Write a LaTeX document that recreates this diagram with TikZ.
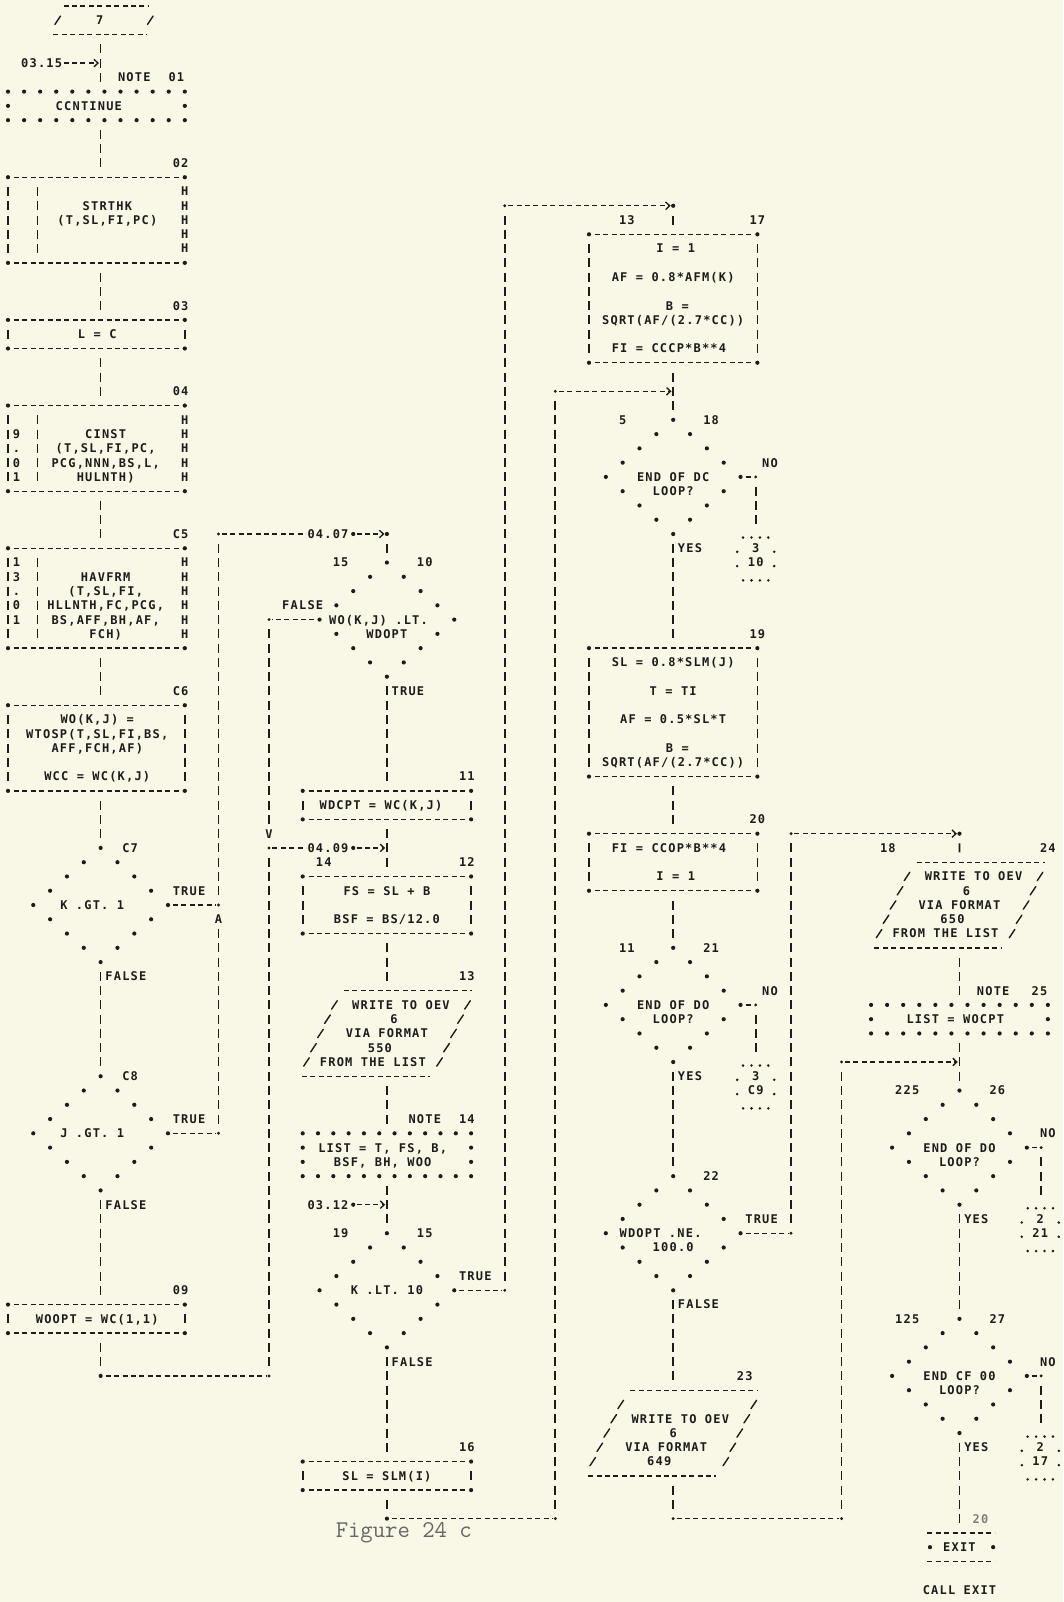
\documentclass[tikz,border=0pt]{standalone}
\usepackage{fontspec}
\usetikzlibrary{calc,fit,shapes.geometric,arrows.meta}
\newfontfamily\lpf{DejaVu Sans Mono}[LetterSpace=10]
\definecolor{ink}{RGB}{28,28,28}
\definecolor{paper}{RGB}{249,247,230}
\newcounter{tn}
\tikzset{
  hd/.style={draw=ink,line width=1.35pt,dash pattern=on 5pt off 3.42pt},
  vd/.style={draw=ink,line width=1.7pt,dash pattern=on 9pt off 5.27pt},
  sl/.style={draw=ink,line width=1.4pt,line cap=round},
  tx/.style={font=\lpf\bfseries\fontsize{12}{14}\selectfont,text=ink,inner sep=0pt,anchor=base,yshift=-4.4pt},
  arr/.style={hd,-{Straight Barb[length=4pt,width=7.5pt]}},
  fb/.style={inner sep=0pt,outer sep=0pt},
}
\newcommand\Xt[3]{\stepcounter{tn}\node[tx] (t\arabic{tn}) at (#1,#2) {#3};}
\newcommand\Xdot[2]{\fill[ink] (#1,#2) circle (2.1pt);}
\newcommand\Xcor[2]{\fill[ink] (#1,#2) circle (1.6pt);}
\newcommand\Xbars[3]{\draw[vd] (#1,{#2-0.315}) -- (#1,{#3+0.315});}
\newcommand\XH[3]{\foreach \rr in {#2,...,#3}{\Xt{#1}{\rr}{H}}}
\newcommand\Xsl[2]{\draw[sl] (#1,#2) ++(-2.8pt,-4.2pt) -- ++(5.6pt,8.4pt);}
\newcommand\Xbox[5]{%
  \node[fb,fit={(#2,#4)(#3,#5)}] (#1) {};
  \draw[hd] ({#2+0.7},#4) -- ({#3-0.3},#4);
  \draw[hd] ({#2+0.7},#5) -- ({#3-0.3},#5);
  \Xdot{#2}{#4}\Xdot{#3}{#4}\Xdot{#2}{#5}\Xdot{#3}{#5}}
\newcommand\Xnote[5]{%
  \node[fb,fit={(#2,#4)(#3,#5)}] (#1) {};
  \foreach \i in {0,...,11}{\Xdot{{#2+(#3-#2)*\i/11}}{#4}\Xdot{{#2+(#3-#2)*\i/11}}{#5}}%
  \pgfmathtruncatemacro\XnA{#4+1}\pgfmathtruncatemacro\XnB{#5-1}%
  \foreach \rr in {\XnA,...,\XnB}{\Xdot{#2}{\rr}\Xdot{#3}{\rr}}}
\newcommand\Xdiam[3]{%
  \node[fb,diamond,minimum width=134.72pt,minimum height=114.16pt] (#1) at (#2,#3) {};
  \foreach \k in {0,1,2,3}{%
    \Xdot{{#2+2*\k}}{{#3-4+\k}}%
    \Xdot{{#2+8-2*\k}}{{#3+\k}}%
    \Xdot{{#2-2*\k}}{{#3+4-\k}}%
    \Xdot{{#2-8+2*\k}}{{#3-\k}}}}
\newcommand\Xpar[4]{%
  \node[fb,fit={({#2-10.4},#3)({#2+10.4},#4)}] (#1) {};
  \draw[hd] ({#2-5.1},#3) -- ({#2+10.1},#3);
  \draw[hd] ({#2-10.1},#4) -- ({#2+5.1},#4);
  \foreach \k in {1,...,5}{\Xsl{{#2-5.4-0.83*\k}}{{#3+\k}}\Xsl{{#2+10.4-0.83*\k}}{{#3+\k}}}}
\newcommand\Xcirc[5]{%
  \node[fb,fit={({#2-2.2},#3)({#2+2.2},{#3+3})}] (#1) {};
  \foreach \d in {-1.5,-0.5,0.5,1.5}{\fill[ink] ({#2+\d},{#3+0.25}) circle (1.4pt) ({#2+\d},{#3+3.25}) circle (1.4pt);}%
  \foreach \d in {-2.2,2.2}{\fill[ink] ({#2+\d},{#3+1.25}) circle (1.4pt) ({#2+\d},{#3+2.25}) circle (1.4pt);}%
  \Xt{#2}{{#3+1}}{#4}\Xt{#2}{{#3+2}}{#5}}
\newcommand\Xflow[3]{\draw[vd] ($(#2.south -| #1)+(0,0.685)$) -- ($(#3.north -| #1)+(0,-0.685)$);}
\begin{document}
\begin{tikzpicture}
\fill[paper] (0,0) rectangle (1063pt,-1602pt);
\useasboundingbox (0,0) rectangle (1063pt,-1602pt);
\begin{scope}[x=8.42pt,y=-14.27pt,shift={(8pt,-6pt)}]
\coordinate (f1) at (11,0);
\coordinate (f2) at (45,0);
\coordinate (f3) at (79,0);
\coordinate (f4) at (113,0);
\coordinate (k1) at (25,37);
\coordinate (k2) at (25,63);
\coordinate (k3) at (25,79);
\coordinate (k4) at (31,43);
\coordinate (k5) at (31,59);
\coordinate (k6) at (31,96);
\coordinate (k7) at (59,14);
\coordinate (k8) at (59,90);
\coordinate (k9) at (65,27);
\coordinate (k10) at (65,106);
\coordinate (k11) at (93,58);
\coordinate (k12) at (93,86);
\coordinate (k13) at (99,74);
\coordinate (k14) at (99,106);
\coordinate (k15) at (79,106);
\coordinate (s1) at (11,96);
\coordinate (s2) at (45,37);
\coordinate (s3) at (45,106);
\coordinate (s4) at (79,14);
\coordinate (s5) at (113,58);

% ---------------- column 1
\node[fb,fit={(5.3,0)(17.5,2)}] (p7) {};
\draw[hd] (6.6,0) -- (16.8,0);
\draw[hd] (5.4,2) -- (16.5,2);
\Xsl{5.9}{1}\Xsl{16.9}{1}
\Xt{10.9}{1}{7}
\Xt{4}{4}{03.15}
\draw[arr] (6.6,4) -- (10.8,4);
\Xt{15}{5}{NOTE}\Xt{20}{5}{01}
\Xnote{n01}{0}{21}{6}{8}
\Xt{9.6}{7}{CCNTINUE}
\Xt{20.5}{11}{02}
\Xbox{b02}{0}{21}{12}{18}\Xbars{0}{13}{17}\Xbars{3.5}{13}{17}\XH{21}{13}{17}
\Xt{11.8}{14}{STRTHK}\Xt{11.8}{15}{(T,SL,FI,PC)}
\Xt{20.5}{21}{03}
\Xbox{b03}{0}{21}{22}{24}\Xbars{0}{23}{23}\Xbars{21}{23}{23}
\Xt{10.6}{23}{L = C}
\Xt{20.5}{27}{04}
\Xbox{b04}{0}{21}{28}{34}\Xbars{0}{29}{33}\Xbars{3.5}{29}{33}\XH{21}{29}{33}
\Xt{1}{30}{9}\Xt{1}{31}{.}\Xt{1}{32}{0}\Xt{1}{33}{1}
\Xt{11.6}{30}{CINST}\Xt{11.6}{31}{(T,SL,FI,PC,}\Xt{11.6}{32}{PCG,NNN,BS,L,}\Xt{11.6}{33}{HULNTH)}
\Xt{20.5}{37}{C5}
\Xbox{b05}{0}{21}{38}{45}\Xbars{0}{39}{44}\Xbars{3.5}{39}{44}\XH{21}{39}{44}
\Xt{1}{39}{1}\Xt{1}{40}{3}\Xt{1}{41}{.}\Xt{1}{42}{0}\Xt{1}{43}{1}
\Xt{11.6}{40}{HAVFRM}\Xt{11.6}{41}{(T,SL,FI,}\Xt{11.6}{42}{HLLNTH,FC,PCG,}\Xt{11.6}{43}{BS,AFF,BH,AF,}\Xt{11.6}{44}{FCH)}
\Xt{20.5}{48}{C6}
\Xbox{b06}{0}{21}{49}{55}\Xbars{0}{50}{54}\Xbars{21}{50}{54}
\Xt{10.6}{50}{WO(K,J) =}\Xt{10.6}{51}{WTOSP(T,SL,FI,BS,}\Xt{10.6}{52}{AFF,FCH,AF)}\Xt{10.6}{54}{WCC = WC(K,J)}
\Xdiam{d07}{11}{63}
\Xt{14.5}{59}{C7}\Xt{10}{63}{K .GT. 1}\Xt{21.5}{62}{TRUE}\Xt{14}{68}{FALSE}
\Xdiam{d08}{11}{79}
\Xt{14.5}{75}{C8}\Xt{10}{79}{J .GT. 1}\Xt{21.5}{78}{TRUE}\Xt{14}{84}{FALSE}
\Xt{20.5}{90}{09}
\Xbox{b09}{0}{21}{91}{93}\Xbars{0}{92}{92}\Xbars{21}{92}{92}
\Xt{10.6}{92}{WOOPT = WC(1,1)}

% ---------------- column 2
\Xdiam{d10}{45}{43}
\Xt{39.5}{39}{15}\Xt{49.5}{39}{10}\Xt{35}{42}{FALSE}\Xt{44}{43}{WO(K,J) .LT.}\Xt{45}{44}{WDOPT}\Xt{47.5}{48}{TRUE}
\Xt{54.5}{54}{11}
\Xbox{b11}{35}{55}{55}{57}\Xbars{35}{56}{56}\Xbars{55}{56}{56}
\Xt{44.3}{56}{WDCPT = WC(K,J)}
\Xt{37.5}{60}{14}\Xt{54.5}{60}{12}
\Xbox{b12}{35}{55}{61}{65}\Xbars{35}{62}{64}\Xbars{55}{62}{64}
\Xt{45}{62}{FS = SL + B}\Xt{45}{64}{BSF = BS/12.0}
\Xt{54.5}{68}{13}
\Xpar{p13}{45}{69}{75}
\Xt{46.67}{70}{WRITE TO OEV}\Xt{45.84}{71}{6}\Xt{45}{72}{VIA FORMAT}\Xt{44.17}{73}{550}\Xt{43.34}{74}{FROM THE LIST}
\Xt{49.5}{78}{NOTE}\Xt{54.5}{78}{14}
\Xnote{n14}{35}{55}{79}{82}
\Xt{44.5}{80}{LIST = T, FS, B,}\Xt{44.5}{81}{BSF, BH, WOO}
\Xdiam{d15}{45}{90}
\Xt{39.5}{86}{19}\Xt{49.5}{86}{15}\Xt{45}{90}{K .LT. 10}\Xt{55.5}{89}{TRUE}\Xt{48}{95}{FALSE}
\Xt{54.5}{101}{16}
\Xbox{b16}{35}{55}{102}{104}\Xbars{35}{103}{103}\Xbars{55}{103}{103}
\Xt{45}{103}{SL = SLM(I)}

% ---------------- column 3
\Xt{73.5}{15}{13}\Xt{89}{15}{17}
\Xbox{b17}{69}{89}{16}{25}\Xbars{69}{17}{24}\Xbars{89}{17}{24}
\Xt{79.3}{17}{I = 1}\Xt{79}{19}{AF = 0.8*AFM(K)}\Xt{79.5}{21}{B =}\Xt{79}{22}{SQRT(AF/(2.7*CC))}\Xt{78.5}{24}{FI = CCCP*B**4}
\Xdiam{d18}{79}{33}
\Xt{73}{29}{5}\Xt{83.5}{29}{18}\Xt{79}{33}{END OF DC}\Xt{79}{34}{LOOP?}\Xt{90.5}{32}{NO}\Xt{81}{38}{YES}
\Xcirc{c18}{88.8}{37}{3}{10}
\Xt{89}{44}{19}
\Xbox{b19}{69}{89}{45}{54}\Xbars{69}{46}{53}\Xbars{89}{46}{53}
\Xt{79}{46}{SL = 0.8*SLM(J)}\Xt{79}{48}{T = TI}\Xt{79}{50}{AF = 0.5*SL*T}\Xt{79.5}{52}{B =}\Xt{79}{53}{SQRT(AF/(2.7*CC))}
\Xt{89}{57}{20}
\Xbox{b20}{69}{89}{58}{62}\Xbars{69}{59}{61}\Xbars{89}{59}{61}
\Xt{78.5}{59}{FI = CCOP*B**4}\Xt{79.3}{61}{I = 1}
\Xdiam{d21}{79}{70}
\Xt{73.5}{66}{11}\Xt{83.5}{66}{21}\Xt{79}{70}{END OF DO}\Xt{79}{71}{LOOP?}\Xt{90.5}{69}{NO}\Xt{81}{75}{YES}
\Xcirc{c21}{88.8}{74}{3}{C9}
\Xdiam{d22}{79}{86}
\Xt{83.5}{82}{22}\Xt{77.5}{86}{WDOPT .NE.}\Xt{79}{87}{100.0}\Xt{89.5}{85}{TRUE}\Xt{82}{91}{FALSE}
\Xt{87.5}{96}{23}
\Xpar{p23}{79}{97}{103}
\Xt{79.84}{99}{WRITE TO OEV}\Xt{79}{100}{6}\Xt{78.17}{101}{VIA FORMAT}\Xt{77.34}{102}{649}

% ---------------- column 4
\Xt{104.5}{59}{18}\Xt{123.5}{59}{24}
\Xpar{p24}{113}{60}{66}
\Xt{114.67}{61}{WRITE TO OEV}\Xt{113.84}{62}{6}\Xt{113}{63}{VIA FORMAT}\Xt{112.17}{64}{650}\Xt{111.34}{65}{FROM THE LIST}
\Xt{117}{69}{NOTE}\Xt{122.5}{69}{25}
\Xnote{n25}{102.5}{123.5}{70}{72}
\Xt{112.5}{71}{LIST = WOCPT}
\Xdiam{d26}{113}{80}
\Xt{106.8}{76}{225}\Xt{117.5}{76}{26}\Xt{113}{80}{END OF DO}\Xt{113}{81}{LOOP?}\Xt{123.5}{79}{NO}\Xt{115}{85}{YES}
\Xcirc{c26}{122.6}{84}{2}{21}
\Xdiam{d27}{113}{96}
\Xt{106.8}{92}{125}\Xt{117.5}{92}{27}\Xt{113}{96}{END CF 00}\Xt{113}{97}{LOOP?}\Xt{123.5}{95}{NO}\Xt{115}{101}{YES}
\Xcirc{c27}{122.6}{100}{2}{17}
\node[tx,text=gray] (lbl20) at (115.5,106) {20};
\node[fb,fit={(109,107)(117,109)}] (ex) {};
\draw[hd] (109.2,107) -- (117.2,107);
\draw[hd] (109.2,109) -- (117.2,109);
\Xdot{109.5}{108}\Xdot{117}{108}
\Xt{113}{108}{EXIT}
\Xt{113}{111}{CALL EXIT}

% ---------------- flows (vertical connectors)
\Xflow{f1}{p7}{n01}
\Xflow{f1}{n01}{b02}
\Xflow{f1}{b02}{b03}
\Xflow{f1}{b03}{b04}
\Xflow{f1}{b04}{b05}
\Xflow{f1}{b05}{b06}
\Xflow{f1}{b06}{d07}
\Xflow{f1}{d07}{d08}
\Xflow{f1}{d08}{b09}
\draw[vd] ($(b09.south -| f1)+(0,0.685)$) -- ($(s1)+(0,-0.685)$);
\draw[vd] ($(s2)+(0,0.685)$) -- ($(d10.north)+(0,-0.685)$);
\Xflow{f2}{d10}{b11}
\Xflow{f2}{b11}{b12}
\Xflow{f2}{b12}{p13}
\Xflow{f2}{p13}{n14}
\Xflow{f2}{n14}{d15}
\Xflow{f2}{d15}{b16}
\draw[vd] ($(b16.south -| f2)+(0,0.685)$) -- ($(s3)+(0,-0.685)$);
\draw[vd] ($(s4)+(0,0.685)$) -- ($(b17.north)+(0,-0.685)$);
\Xflow{f3}{b17}{d18}
\Xflow{f3}{d18}{b19}
\Xflow{f3}{b19}{b20}
\Xflow{f3}{b20}{d21}
\Xflow{f3}{d21}{d22}
\Xflow{f3}{d22}{p23}
\draw[vd] ($(p23.south -| f3)+(0,0.685)$) -- ($(k15)+(0,-0.685)$);
\draw[vd] ($(s5)+(0,0.685)$) -- ($(p24.north)+(0,-0.685)$);
\Xflow{f4}{p24}{n25}
\Xflow{f4}{n25}{d26}
\Xflow{f4}{d26}{d27}
\Xflow{f4}{d27}{ex}

% ---------------- horizontal connectors and long verticals
\draw[hd] ($(d07.east)+(0.6,0)$) -- ($(k2)+(-0.3,0)$);\Xcor{25}{63}
\draw[hd] ($(d08.east)+(0.6,0)$) -- ($(k3)+(-0.3,0)$);\Xcor{25}{79}
\draw[vd] ($(k1)+(0,0.685)$) -- ($(k2)+(0,-0.685)$);
\draw[vd] ($(k2)+(0,1.685)$) -- ($(k3)+(0,-0.685)$);
\Xt{25}{64}{A}
\Xcor{25}{37}
\draw[hd] ($(k1)+(0.4,0)$) -- (35.4,37);
\Xt{38}{37}{04.07}\Xdot{41}{37}
\draw[arr] (41.4,37) -- ($(s2)+(-0.3,0)$);
\Xdot{45}{37}
\draw[hd] ($(d10.west)+(-0.6,0)$) -- ($(k4)+(0.3,0)$);\Xcor{31}{43}
\draw[vd] ($(k4)+(0,0.685)$) -- ($(k5)+(0,-1.685)$);
\Xt{31}{58}{V}
\Xcor{31}{59}
\draw[vd] ($(k5)+(0,0.685)$) -- ($(k6)+(0,-0.685)$);
\Xcor{31}{96}
\Xdot{11}{96}
\draw[hd] ($(s1)+(0.6,0)$) -- ($(k6)+(-0.3,0)$);
\draw[hd] ($(k5)+(0.4,0)$) -- (35.4,59);
\Xt{38}{59}{04.09}\Xdot{41}{59}
\draw[arr] (41.4,59) -- (44.8,59);
\Xt{38}{84}{03.12}\Xdot{41}{84}
\draw[arr] (41.4,84) -- (44.8,84);
\draw[hd] ($(d15.east)+(0.6,0)$) -- ($(k8)+(-0.3,0)$);\Xcor{59}{90}
\draw[vd] ($(k7)+(0,0.685)$) -- ($(k8)+(0,-0.685)$);
\Xcor{59}{14}
\draw[arr] ($(k7)+(0.4,0)$) -- ($(s4)+(-0.3,0)$);\Xdot{79}{14}
\Xdot{45}{106}
\draw[hd] ($(s3)+(0.6,0)$) -- ($(k10)+(-0.3,0)$);\Xcor{65}{106}
\draw[vd] ($(k9)+(0,0.685)$) -- ($(k10)+(0,-0.685)$);
\Xcor{65}{27}
\draw[arr] ($(k9)+(0.4,0)$) -- (78.8,27);
\draw[hd] ($(d18.east)+(0.6,0)$) -- (88.5,33);\Xcor{88.8}{33}\Xbars{88.8}{34}{36}
\draw[hd] ($(d21.east)+(0.6,0)$) -- (88.5,70);\Xcor{88.8}{70}\Xbars{88.8}{71}{73}
\draw[hd] ($(d26.east)+(0.6,0)$) -- (122.4,80);\Xcor{122.7}{80}\Xbars{122.7}{81}{83}
\draw[hd] ($(d27.east)+(0.6,0)$) -- (122.4,96);\Xcor{122.7}{96}\Xbars{122.7}{97}{99}
\draw[hd] ($(d22.east)+(0.6,0)$) -- ($(k12)+(-0.3,0)$);\Xcor{93}{86}
\draw[vd] ($(k11)+(0,0.685)$) -- ($(k12)+(0,-0.685)$);
\Xcor{93}{58}
\draw[arr] ($(k11)+(0.4,0)$) -- ($(s5)+(-0.3,0)$);\Xdot{113}{58}
\Xcor{79}{106}
\draw[hd] ($(k15)+(0.4,0)$) -- ($(k14)+(-0.3,0)$);\Xcor{99}{106}
\draw[vd] ($(k13)+(0,0.685)$) -- ($(k14)+(0,-0.685)$);
\Xcor{99}{74}
\draw[arr] ($(k13)+(0.4,0)$) -- (112.8,74);

\node[font=\ttfamily\fontsize{24}{26}\selectfont,text=black!60] (cap) at (47,107) {Figure 24 c};
\end{scope}
\end{tikzpicture}
\end{document}
